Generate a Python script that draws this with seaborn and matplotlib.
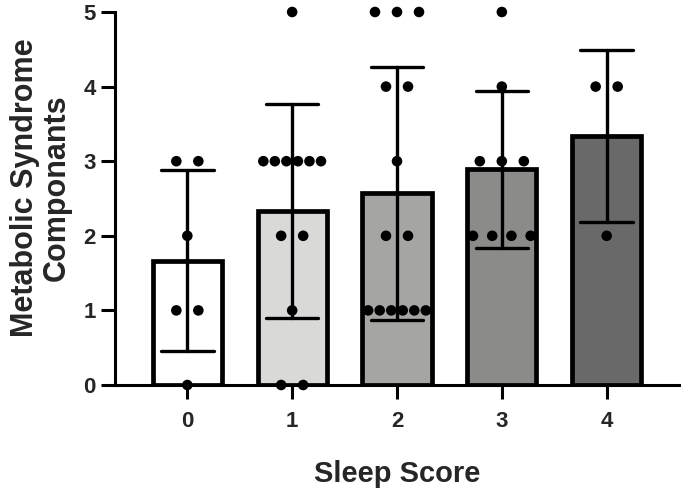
import numpy as np
import pandas as pd
import matplotlib
matplotlib.use("Agg")
import matplotlib.pyplot as plt
import seaborn as sns

# ---- data ----
sleep_scores = ["0", "1", "2", "3", "4"]
comp_0 = [3, 3, 2, 1, 1, 0]
comp_1 = [5, 3, 3, 3, 3, 3, 3, 2, 2, 1, 0, 0]
comp_2 = [5, 5, 5, 4, 4, 3, 2, 2, 1, 1, 1, 1, 1, 1]
comp_3 = [5, 4, 3, 3, 3, 2, 2, 2, 2]
comp_4 = [4, 4, 2]
bar_colors = ["#ffffff", "#d9d9d7", "#a6a6a2", "#8b8b89", "#696969"]
y_ticks = [0, 1, 2, 3, 4, 5]
x_label = "Sleep Score"
y_label = "Metabolic Syndrome\nComponants"

groups = [comp_0, comp_1, comp_2, comp_3, comp_4]
df = pd.DataFrame({
    "score": [s for s, g in zip(sleep_scores, groups) for _ in g],
    "comp": [v for g in groups for v in g],
})

# centered scatter layout (Prism-like): ties spread symmetrically
def spread(vals, pos, max_step=0.21, max_span=0.55):
    xs, ys = [], []
    vals = np.asarray(vals)
    for v in np.unique(vals):
        n = int((vals == v).sum())
        step = max_step if n < 2 else min(max_step, max_span / (n - 1))
        off = (np.arange(n) - (n - 1) / 2) * step
        xs.extend(pos + off)
        ys.extend([v] * n)
    return xs, ys

sns.set_style("white")
plt.rcParams["font.family"] = ["Liberation Sans", "DejaVu Sans"]
plt.rcParams["font.weight"] = "bold"

fig = plt.figure(figsize=(6.81, 4.95), dpi=100)
ax = fig.add_axes([115 / 681, 1 - 385 / 495, (679 - 115) / 681, (385 - 12) / 495])

sns.barplot(data=df, x="score", y="comp", order=sleep_scores, hue="score",
            palette=bar_colors, legend=False, errorbar="sd", width=0.66,
            edgecolor="black", linewidth=3.4, capsize=0.5,
            err_kws={"color": "black", "linewidth": 2.4, "zorder": 3}, ax=ax)

px, py = [], []
for i, g in enumerate(groups):
    xs, ys = spread(g, i)
    px.extend(xs)
    py.extend(ys)
sns.scatterplot(x=px, y=py, color="black", s=58, edgecolor="none",
                ax=ax, zorder=5, clip_on=False)

ax.set_ylim(0, 5)
ax.set_xlim(-0.69, 4.69)
ax.set_yticks(y_ticks)
ax.set_yticklabels([str(t) for t in y_ticks], fontsize=16, fontweight="bold")
ax.set_xticks(range(len(sleep_scores)))
ax.set_xticklabels(sleep_scores, fontsize=16, fontweight="bold")
ax.tick_params(axis="both", direction="out", length=10, width=2.2, color="black",
               bottom=True, left=True, pad=4)
ax.tick_params(axis="x", pad=9)
for side in ["top", "right"]:
    ax.spines[side].set_visible(False)
for side in ["left", "bottom"]:
    ax.spines[side].set_linewidth(2.2)
    ax.spines[side].set_color("black")
ax.set_xlabel(x_label, fontsize=21, fontweight="bold", labelpad=20)
ax.set_ylabel(y_label, fontsize=22, fontweight="bold", linespacing=1.05)
ax.yaxis.set_label_coords(-0.077, 0.53)

fig.savefig("out.png", dpi=100, facecolor="white")
